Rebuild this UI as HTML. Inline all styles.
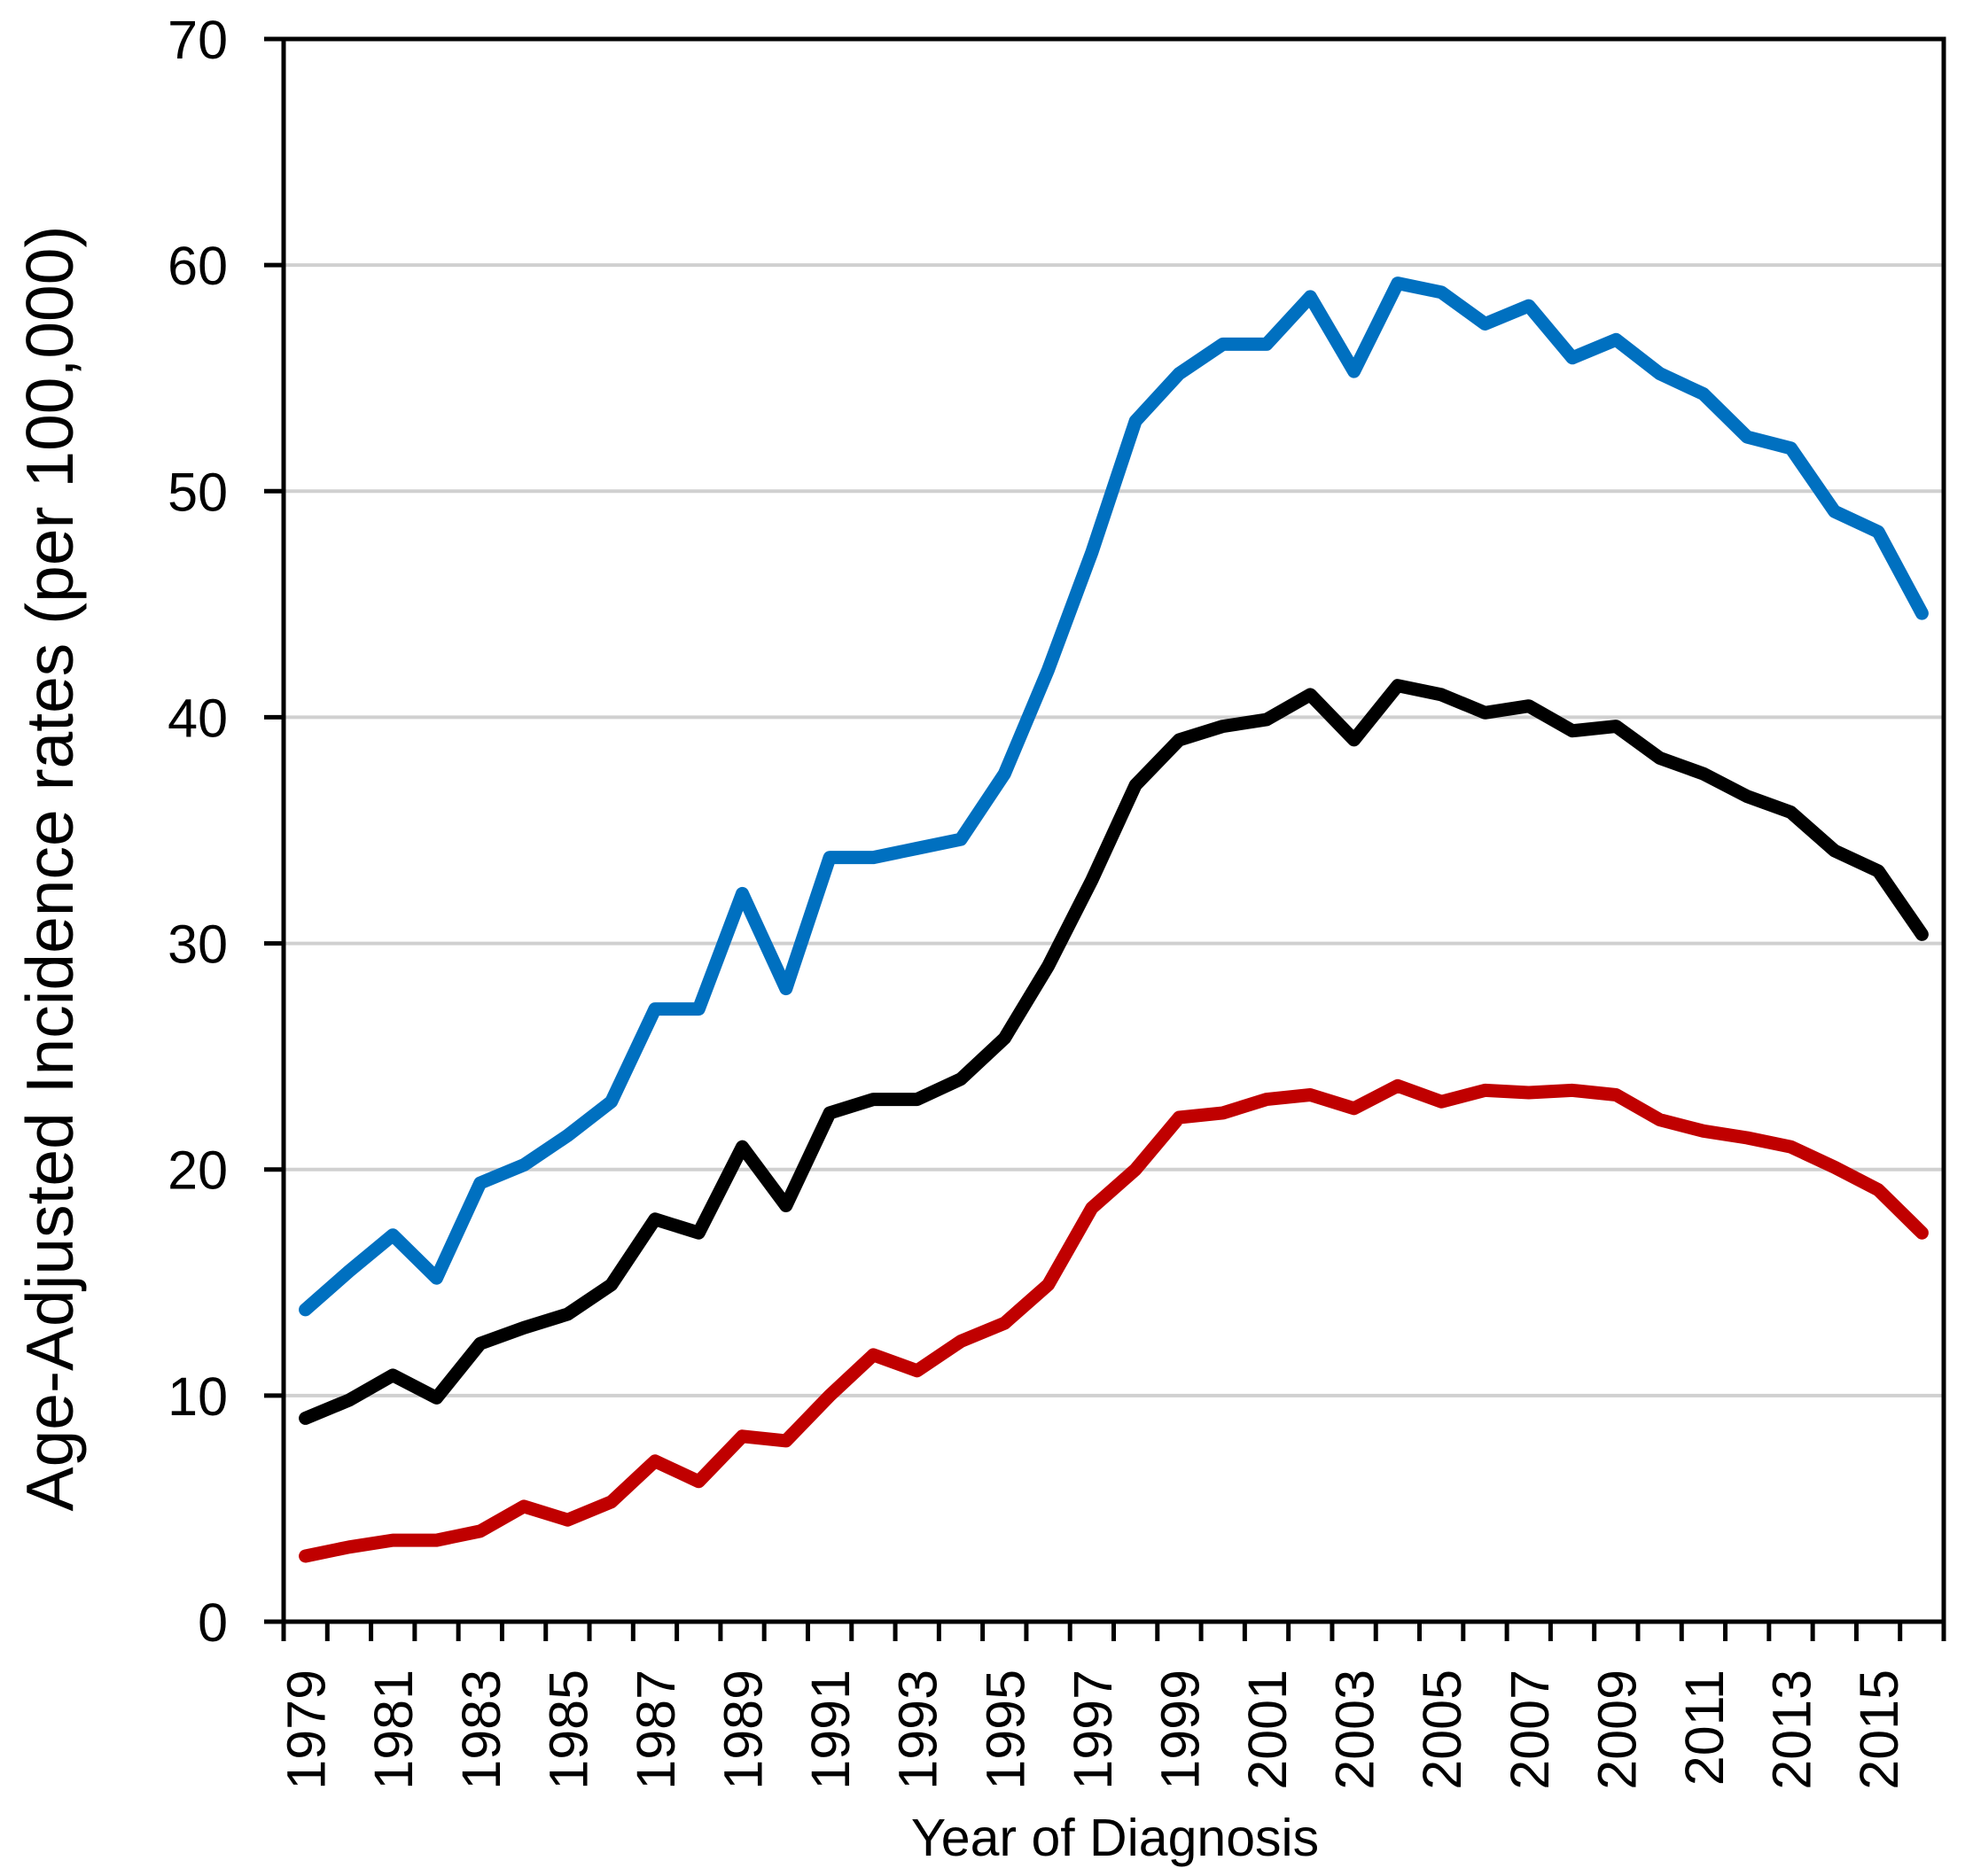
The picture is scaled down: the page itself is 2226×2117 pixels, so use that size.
<!DOCTYPE html>
<html><head><meta charset="utf-8"><style>
html,body{margin:0;padding:0;background:#fff}
svg{display:block;font-family:"Liberation Sans",Arial,sans-serif}
</style></head><body>
<svg id="chart" width="2226" height="2117" viewBox="0 0 2226 2117" xmlns="http://www.w3.org/2000/svg">
<g id="grid"></g>
<g id="series"></g>
<g id="axes"></g>
<text transform="translate(82,980) rotate(-90)" text-anchor="middle" font-size="75">Age-Adjusted Incidence rates (per 100,000)</text>
<text x="1258" y="2094" text-anchor="middle" font-size="59">Year of Diagnosis</text>
</svg>
<script>
const years = [1979,1980,1981,1982,1983,1984,1985,1986,1987,1988,1989,1990,1991,1992,1993,1994,1995,1996,1997,1998,1999,2000,2001,2002,2003,2004,2005,2006,2007,2008,2009,2010,2011,2012,2013,2014,2015,2016];
const blueValues = [13.8,15.5,17.1,15.2,19.4,20.2,21.5,23.0,27.1,27.1,32.2,28.0,33.8,33.8,34.2,34.6,37.5,42.1,47.3,53.1,55.2,56.5,56.5,58.6,55.3,59.2,58.8,57.4,58.2,55.9,56.7,55.2,54.3,52.4,51.9,49.1,48.2,44.6];
const blackValues = [9.0,9.8,10.9,9.9,12.3,13.0,13.6,14.9,17.8,17.2,21.0,18.4,22.5,23.1,23.1,24.0,25.8,29.0,32.8,37.0,39.0,39.6,39.9,41.0,39.0,41.4,41.0,40.2,40.5,39.4,39.6,38.2,37.5,36.5,35.8,34.1,33.2,30.4];
const redValues = [2.9,3.3,3.6,3.6,4.0,5.1,4.5,5.3,7.1,6.2,8.2,8.0,10.0,11.8,11.1,12.4,13.2,14.9,18.3,20.0,22.3,22.5,23.1,23.3,22.7,23.7,23.0,23.5,23.4,23.5,23.3,22.2,21.7,21.4,21.0,20.1,19.1,17.2];
const yTicks = [0,10,20,30,40,50,60,70];

const NS = "http://www.w3.org/2000/svg";
const L = 320, R = 2193, T = 44, B = 1830, YMAX = 70;
const step = (R - L) / years.length;
function xPos(i){ return L + step * (i + 0.5); }
function yPos(v){ return B - (v / YMAX) * (B - T); }
function mk(tag, attrs, parent){ const e = document.createElementNS(NS, tag); for (const k in attrs) e.setAttribute(k, attrs[k]); parent.appendChild(e); return e; }

const grid = document.getElementById('grid');
const axes = document.getElementById('axes');
const series = document.getElementById('series');

yTicks.forEach(v => {
  const y = yPos(v);
  if (v > 0 && v < YMAX) {
    const g = mk('line', {x1: L, x2: R, y1: y, y2: y, stroke: '#d0d0d0', 'stroke-width': 4}, grid);
    
    
  }
  const t = mk('line', {x1: L - 22, x2: L, y1: y, y2: y, stroke: '#000', 'stroke-width': 5}, axes);
  
  
  const lb = mk('text', {x: 257, y: y + 22, 'text-anchor': 'end', 'font-size': 61}, axes);
  lb.textContent = v;
  
  
});

for (let i = 0; i <= years.length; i++) {
  const x = L + step * i;
  const t = mk('line', {x1: x, x2: x, y1: B, y2: B + 22, stroke: '#000', 'stroke-width': 5}, axes);
  
  
}
years.forEach((yr, i) => {
  if (i % 2 !== 0) return;
  const x = xPos(i);
  const lb = mk('text', {transform: 'translate(' + (x + 22) + ',1884) rotate(-90)', 'text-anchor': 'end', 'font-size': 61}, axes);
  lb.textContent = yr;
  
  
});

const frame = mk('rect', {x: L, y: T, width: R - L, height: B - T, fill: 'none', stroke: '#000', 'stroke-width': 5}, axes);



function drawLine(vals, color, name){
  const d = vals.map((v, i) => (i ? 'L' : 'M') + xPos(i).toFixed(1) + ' ' + yPos(v).toFixed(1)).join(' ');
  const p = mk('path', {d: d, fill: 'none', stroke: color, 'stroke-width': 15, 'stroke-linejoin': 'round', 'stroke-linecap': 'round'}, series);
  
  
}
drawLine(redValues, '#C00000', 'red-series-line');
drawLine(blackValues, '#000000', 'black-series-line');
drawLine(blueValues, '#0070C0', 'blue-series-line');
</script>
</body></html>
